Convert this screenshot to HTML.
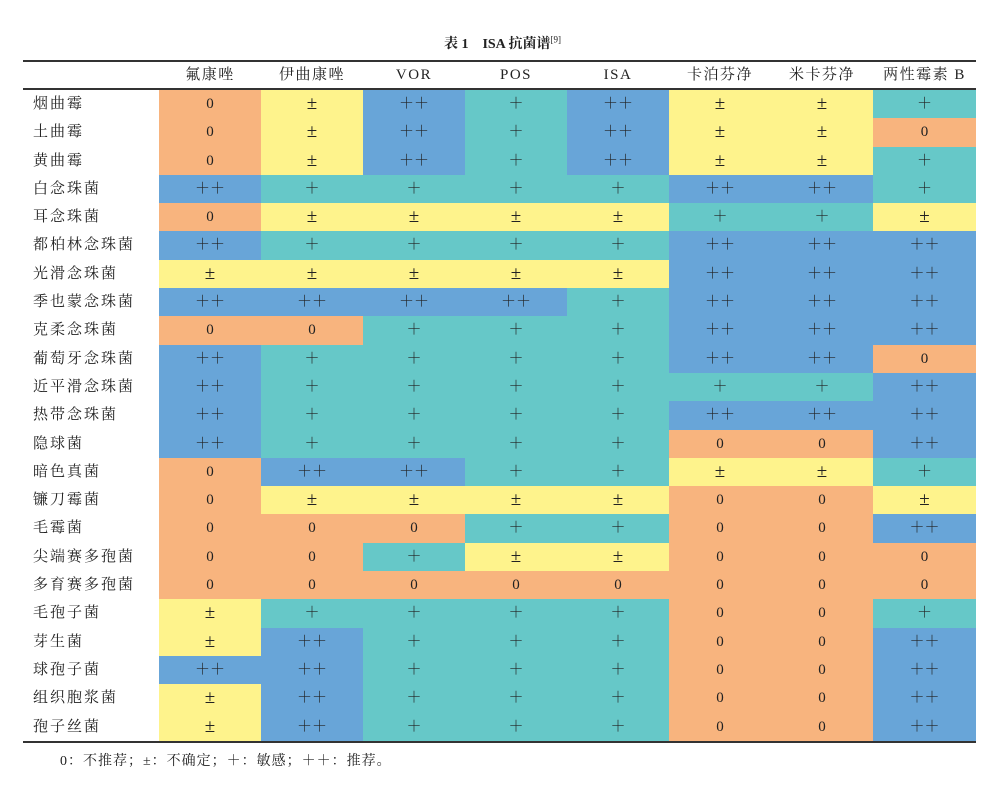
<!DOCTYPE html>
<html><head><meta charset="utf-8"><style>
body{margin:0;width:1005px;height:805px;background:#fff;font-family:"Liberation Serif","Noto Serif CJK SC",serif;color:#222;position:relative;overflow:hidden}
.title{position:absolute;top:33px;left:0;width:1005px;text-align:center;font-size:14px;font-weight:bold;font-family:"Liberation Serif","Noto Serif CJK SC",serif}
.title sup{font-weight:normal;font-size:9px}
.rule{position:absolute;left:23px;width:953px;background:#333}
.hdr{position:absolute;top:62px;left:23px;display:grid;grid-template-columns:136px 102px 102px 102px 102px 102px 102px 102px 103px;height:27px;font-size:15px;letter-spacing:1.5px}
.hdr div{text-align:center;line-height:27px}
.g{position:absolute;top:90px;left:23px;display:grid;grid-template-columns:136px 102px 102px 102px 102px 102px 102px 102px 103px;grid-template-rows:repeat(23,28.3px);font-size:15px}
.g div{text-align:center;line-height:28.3px}
.g .l{text-align:left;padding-left:10px;letter-spacing:2px}
.O{background:#F8B47E}.Y{background:#FEF38C;font-size:19px}.B{background:#68A5D8}.T{background:#66C8C8}
.foot{position:absolute;top:750px;left:60px;font-size:14px;letter-spacing:1px}
</style></head><body>
<div class="title">表 1　ISA 抗菌谱<sup>[9]</sup></div>
<div class="rule" style="top:60px;height:2px"></div>
<div class="hdr"><div></div><div>氟康唑</div><div>伊曲康唑</div><div>VOR</div><div>POS</div><div>ISA</div><div>卡泊芬净</div><div>米卡芬净</div><div>两性霉素 B</div></div>
<div class="rule" style="top:88px;height:1.5px"></div>
<div class="g">
<div class="l">烟曲霉</div><div class="O">0</div><div class="Y">±</div><div class="B">＋＋</div><div class="T">＋</div><div class="B">＋＋</div><div class="Y">±</div><div class="Y">±</div><div class="T">＋</div>
<div class="l">土曲霉</div><div class="O">0</div><div class="Y">±</div><div class="B">＋＋</div><div class="T">＋</div><div class="B">＋＋</div><div class="Y">±</div><div class="Y">±</div><div class="O">0</div>
<div class="l">黄曲霉</div><div class="O">0</div><div class="Y">±</div><div class="B">＋＋</div><div class="T">＋</div><div class="B">＋＋</div><div class="Y">±</div><div class="Y">±</div><div class="T">＋</div>
<div class="l">白念珠菌</div><div class="B">＋＋</div><div class="T">＋</div><div class="T">＋</div><div class="T">＋</div><div class="T">＋</div><div class="B">＋＋</div><div class="B">＋＋</div><div class="T">＋</div>
<div class="l">耳念珠菌</div><div class="O">0</div><div class="Y">±</div><div class="Y">±</div><div class="Y">±</div><div class="Y">±</div><div class="T">＋</div><div class="T">＋</div><div class="Y">±</div>
<div class="l">都柏林念珠菌</div><div class="B">＋＋</div><div class="T">＋</div><div class="T">＋</div><div class="T">＋</div><div class="T">＋</div><div class="B">＋＋</div><div class="B">＋＋</div><div class="B">＋＋</div>
<div class="l">光滑念珠菌</div><div class="Y">±</div><div class="Y">±</div><div class="Y">±</div><div class="Y">±</div><div class="Y">±</div><div class="B">＋＋</div><div class="B">＋＋</div><div class="B">＋＋</div>
<div class="l">季也蒙念珠菌</div><div class="B">＋＋</div><div class="B">＋＋</div><div class="B">＋＋</div><div class="B">＋＋</div><div class="T">＋</div><div class="B">＋＋</div><div class="B">＋＋</div><div class="B">＋＋</div>
<div class="l">克柔念珠菌</div><div class="O">0</div><div class="O">0</div><div class="T">＋</div><div class="T">＋</div><div class="T">＋</div><div class="B">＋＋</div><div class="B">＋＋</div><div class="B">＋＋</div>
<div class="l">葡萄牙念珠菌</div><div class="B">＋＋</div><div class="T">＋</div><div class="T">＋</div><div class="T">＋</div><div class="T">＋</div><div class="B">＋＋</div><div class="B">＋＋</div><div class="O">0</div>
<div class="l">近平滑念珠菌</div><div class="B">＋＋</div><div class="T">＋</div><div class="T">＋</div><div class="T">＋</div><div class="T">＋</div><div class="T">＋</div><div class="T">＋</div><div class="B">＋＋</div>
<div class="l">热带念珠菌</div><div class="B">＋＋</div><div class="T">＋</div><div class="T">＋</div><div class="T">＋</div><div class="T">＋</div><div class="B">＋＋</div><div class="B">＋＋</div><div class="B">＋＋</div>
<div class="l">隐球菌</div><div class="B">＋＋</div><div class="T">＋</div><div class="T">＋</div><div class="T">＋</div><div class="T">＋</div><div class="O">0</div><div class="O">0</div><div class="B">＋＋</div>
<div class="l">暗色真菌</div><div class="O">0</div><div class="B">＋＋</div><div class="B">＋＋</div><div class="T">＋</div><div class="T">＋</div><div class="Y">±</div><div class="Y">±</div><div class="T">＋</div>
<div class="l">镰刀霉菌</div><div class="O">0</div><div class="Y">±</div><div class="Y">±</div><div class="Y">±</div><div class="Y">±</div><div class="O">0</div><div class="O">0</div><div class="Y">±</div>
<div class="l">毛霉菌</div><div class="O">0</div><div class="O">0</div><div class="O">0</div><div class="T">＋</div><div class="T">＋</div><div class="O">0</div><div class="O">0</div><div class="B">＋＋</div>
<div class="l">尖端赛多孢菌</div><div class="O">0</div><div class="O">0</div><div class="T">＋</div><div class="Y">±</div><div class="Y">±</div><div class="O">0</div><div class="O">0</div><div class="O">0</div>
<div class="l">多育赛多孢菌</div><div class="O">0</div><div class="O">0</div><div class="O">0</div><div class="O">0</div><div class="O">0</div><div class="O">0</div><div class="O">0</div><div class="O">0</div>
<div class="l">毛孢子菌</div><div class="Y">±</div><div class="T">＋</div><div class="T">＋</div><div class="T">＋</div><div class="T">＋</div><div class="O">0</div><div class="O">0</div><div class="T">＋</div>
<div class="l">芽生菌</div><div class="Y">±</div><div class="B">＋＋</div><div class="T">＋</div><div class="T">＋</div><div class="T">＋</div><div class="O">0</div><div class="O">0</div><div class="B">＋＋</div>
<div class="l">球孢子菌</div><div class="B">＋＋</div><div class="B">＋＋</div><div class="T">＋</div><div class="T">＋</div><div class="T">＋</div><div class="O">0</div><div class="O">0</div><div class="B">＋＋</div>
<div class="l">组织胞浆菌</div><div class="Y">±</div><div class="B">＋＋</div><div class="T">＋</div><div class="T">＋</div><div class="T">＋</div><div class="O">0</div><div class="O">0</div><div class="B">＋＋</div>
<div class="l">孢子丝菌</div><div class="Y">±</div><div class="B">＋＋</div><div class="T">＋</div><div class="T">＋</div><div class="T">＋</div><div class="O">0</div><div class="O">0</div><div class="B">＋＋</div>
</div>
<div class="rule" style="top:741px;height:1.5px"></div>
<div class="foot">0：不推荐；±：不确定；＋：敏感；＋＋：推荐。</div>
</body></html>
